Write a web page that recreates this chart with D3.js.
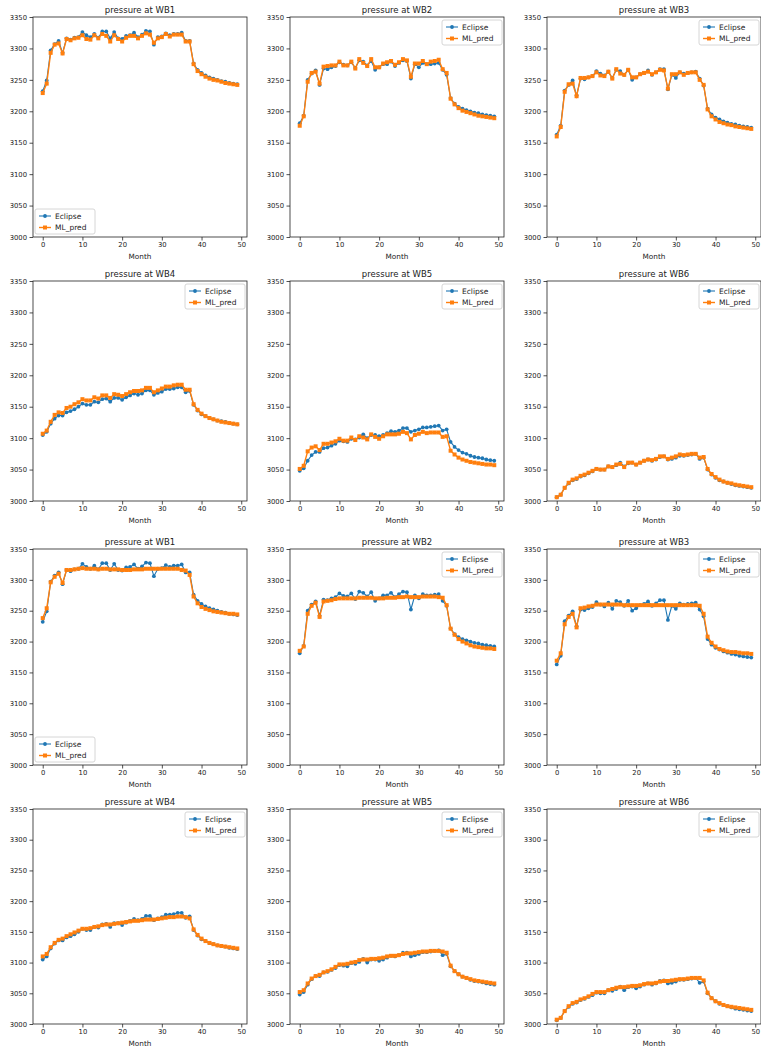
<!DOCTYPE html>
<meta charset="utf-8">
<script src="https://d3js.org/d3.v7.min.js"></script>
<style>
  body { margin: 0; background: #fff; }
  text { font-family: "DejaVu Sans", sans-serif; fill: #222; }
</style>
<body>
<svg id="svg" width="761" height="1047"></svg>
<script>
// ---- data ----
var months = d3.range(50);
var yTicks = [3000, 3050, 3100, 3150, 3200, 3250, 3300, 3350];
var xTicks = [0, 10, 20, 30, 40, 50];

// Eclipse (ground truth), same in both runs
var eclWB1 = [3232,3249,3297,3307,3312,3293,3316,3314,3317,3318,3326,3321,3318,3323,3317,3327,3327,3316,3326,3316,3315,3320,3321,3325,3318,3322,3328,3327,3306,3318,3319,3324,3321,3323,3323,3325,3312,3312,3276,3266,3261,3257,3254,3252,3250,3248,3247,3245,3244,3243];
var eclWB2 = [3181,3193,3250,3260,3265,3242,3268,3267,3270,3272,3278,3274,3273,3278,3269,3281,3279,3273,3280,3266,3270,3275,3275,3279,3272,3277,3281,3280,3252,3275,3270,3277,3275,3275,3276,3277,3266,3258,3221,3212,3207,3204,3202,3200,3198,3197,3195,3194,3193,3192];
var eclWB3 = [3163,3177,3233,3242,3249,3225,3252,3251,3254,3256,3264,3260,3257,3263,3253,3266,3264,3258,3266,3250,3254,3259,3261,3265,3258,3262,3267,3267,3235,3258,3253,3262,3260,3261,3262,3263,3252,3241,3204,3195,3190,3187,3184,3182,3180,3179,3177,3176,3175,3174];
var eclWB4 = [3105,3110,3123,3131,3136,3136,3141,3143,3146,3150,3155,3153,3153,3158,3157,3162,3163,3158,3164,3164,3161,3165,3168,3171,3169,3171,3176,3176,3169,3172,3174,3178,3178,3179,3181,3181,3173,3175,3153,3144,3138,3135,3132,3130,3128,3127,3126,3124,3123,3122];
var eclWB5 = [3048,3052,3064,3073,3078,3078,3084,3085,3088,3091,3096,3095,3094,3099,3098,3101,3106,3100,3105,3105,3103,3105,3108,3111,3110,3112,3116,3116,3110,3112,3114,3117,3117,3118,3119,3120,3112,3114,3094,3086,3081,3077,3075,3072,3070,3069,3068,3066,3065,3064];
var eclWB6 = [3006,3010,3021,3028,3033,3035,3039,3041,3044,3047,3051,3050,3050,3055,3054,3057,3061,3055,3060,3061,3058,3061,3064,3066,3064,3066,3070,3071,3066,3067,3069,3072,3072,3073,3074,3075,3067,3069,3050,3042,3037,3033,3031,3029,3027,3025,3024,3023,3022,3021];

// ML_pred, first run (rows 1-2)
var mlA_WB1 = [3229,3244,3293,3306,3308,3292,3315,3313,3316,3317,3321,3315,3314,3321,3316,3323,3320,3311,3321,3315,3311,3317,3320,3320,3316,3320,3324,3322,3309,3316,3318,3323,3319,3322,3322,3322,3311,3311,3275,3264,3259,3255,3252,3250,3249,3247,3245,3244,3243,3242];
var mlA_WB2 = [3177,3192,3247,3261,3263,3244,3271,3272,3273,3273,3279,3273,3273,3279,3268,3283,3277,3272,3283,3270,3270,3276,3278,3280,3274,3278,3283,3281,3255,3276,3276,3280,3275,3279,3280,3282,3267,3261,3220,3211,3205,3201,3199,3197,3195,3193,3192,3191,3190,3189];
var mlA_WB3 = [3160,3175,3231,3243,3244,3224,3253,3253,3254,3256,3262,3257,3256,3263,3252,3267,3260,3258,3266,3254,3254,3259,3261,3263,3259,3262,3266,3265,3236,3259,3259,3262,3258,3261,3262,3262,3250,3242,3203,3192,3187,3183,3181,3179,3178,3176,3175,3174,3173,3172];
var mlA_WB4 = [3107,3112,3126,3137,3141,3140,3148,3150,3154,3157,3162,3160,3160,3165,3163,3168,3168,3164,3170,3169,3167,3170,3173,3175,3175,3176,3180,3180,3173,3176,3179,3182,3182,3184,3185,3185,3177,3177,3154,3145,3139,3135,3132,3130,3128,3126,3125,3124,3123,3122];
var mlA_WB5 = [3051,3056,3079,3085,3087,3081,3091,3091,3093,3095,3099,3096,3096,3101,3097,3103,3101,3098,3106,3102,3099,3103,3106,3106,3106,3107,3110,3108,3098,3105,3107,3110,3108,3109,3109,3109,3102,3103,3080,3074,3069,3066,3064,3062,3061,3060,3059,3058,3058,3057];
var mlA_WB6 = [3006,3010,3021,3029,3034,3036,3040,3042,3045,3048,3051,3050,3050,3055,3054,3058,3059,3054,3061,3061,3058,3061,3064,3066,3065,3067,3071,3071,3067,3069,3071,3074,3073,3074,3075,3075,3069,3070,3051,3043,3038,3034,3031,3029,3028,3026,3025,3024,3023,3022];

// ML_pred, second run (rows 3-4)
var mlB_WB1 = [3238,3254,3296,3305,3310,3295,3316,3316,3317,3318,3319,3318,3318,3318,3317,3318,3318,3317,3317,3317,3316,3316,3316,3317,3317,3317,3318,3318,3318,3318,3318,3318,3318,3318,3318,3316,3315,3308,3273,3262,3256,3253,3251,3249,3248,3247,3246,3245,3245,3244];
var mlB_WB2 = [3185,3192,3245,3258,3263,3240,3265,3266,3267,3269,3270,3270,3270,3270,3270,3271,3271,3271,3271,3270,3270,3270,3271,3271,3271,3272,3272,3273,3272,3272,3272,3273,3273,3273,3273,3272,3271,3259,3221,3211,3204,3200,3197,3194,3192,3191,3190,3189,3189,3188];
var mlB_WB3 = [3169,3181,3228,3240,3245,3223,3254,3255,3257,3258,3260,3260,3260,3260,3260,3260,3260,3259,3259,3259,3259,3259,3259,3259,3259,3259,3259,3259,3259,3259,3259,3259,3259,3259,3259,3259,3258,3245,3208,3198,3192,3188,3186,3184,3183,3183,3182,3181,3181,3180];
var mlB_WB4 = [3110,3114,3125,3132,3137,3139,3143,3146,3149,3152,3155,3155,3156,3158,3159,3161,3162,3162,3163,3164,3165,3166,3167,3168,3168,3169,3170,3170,3170,3171,3172,3173,3174,3174,3175,3175,3174,3172,3154,3145,3139,3135,3132,3130,3128,3127,3126,3125,3124,3123];
var mlB_WB5 = [3052,3055,3066,3074,3078,3080,3084,3086,3089,3093,3097,3097,3098,3100,3101,3104,3105,3105,3106,3106,3107,3108,3110,3111,3111,3112,3114,3115,3115,3116,3117,3118,3118,3119,3119,3119,3118,3116,3095,3086,3081,3077,3075,3073,3071,3070,3069,3068,3067,3066];
var mlB_WB6 = [3007,3010,3021,3029,3034,3036,3040,3042,3045,3049,3052,3052,3052,3055,3057,3059,3060,3060,3061,3062,3062,3063,3065,3066,3066,3067,3069,3070,3070,3071,3072,3073,3073,3074,3075,3075,3075,3071,3051,3042,3037,3034,3031,3029,3028,3027,3026,3025,3024,3023];

var panels = [
  {title: "pressure at WB1", ecl: eclWB1, ml: mlA_WB1, legend: "ll"},
  {title: "pressure at WB2", ecl: eclWB2, ml: mlA_WB2, legend: "ur"},
  {title: "pressure at WB3", ecl: eclWB3, ml: mlA_WB3, legend: "ur"},
  {title: "pressure at WB4", ecl: eclWB4, ml: mlA_WB4, legend: "ur"},
  {title: "pressure at WB5", ecl: eclWB5, ml: mlA_WB5, legend: "ur"},
  {title: "pressure at WB6", ecl: eclWB6, ml: mlA_WB6, legend: "ur"},
  {title: "pressure at WB1", ecl: eclWB1, ml: mlB_WB1, legend: "ll"},
  {title: "pressure at WB2", ecl: eclWB2, ml: mlB_WB2, legend: "ur"},
  {title: "pressure at WB3", ecl: eclWB3, ml: mlB_WB3, legend: "ur"},
  {title: "pressure at WB4", ecl: eclWB4, ml: mlB_WB4, legend: "ur"},
  {title: "pressure at WB5", ecl: eclWB5, ml: mlB_WB5, legend: "ur"},
  {title: "pressure at WB6", ecl: eclWB6, ml: mlB_WB6, legend: "ur"}
];

// ---- layout ----
var colLeft = [33, 290, 547];
var panelW = 214;
var rowBox = [[17, 237], [281, 501], [549, 765], [809, 1024]];
var blue = "#1f77b4", orange = "#ff7f0e";

var svg = d3.select("#svg");

panels.forEach(function(p, i) {
  var r = Math.floor(i / 3), c = i % 3;
  var w = panelW, h = rowBox[r][1] - rowBox[r][0];
  var g = svg.append("g").attr("transform", "translate(" + colLeft[c] + "," + rowBox[r][0] + ")");

  var x = d3.scaleLinear().domain([-2.45, 51.45]).range([0, w]);
  var y = d3.scaleLinear().domain([3000, 3350]).range([h, 0]);

  // axes
  var ya = g.append("g").call(d3.axisLeft(y).tickValues(yTicks).tickFormat(d3.format("d"))
    .tickSize(3.5).tickPadding(2.5));
  var xa = g.append("g").attr("transform", "translate(0," + h + ")")
    .call(d3.axisBottom(x).tickValues(xTicks).tickFormat(d3.format("d")).tickSize(3.5).tickPadding(2));
  [ya, xa].forEach(function(a) {
    a.select(".domain").remove();
    a.selectAll("line").attr("stroke", "#222").attr("stroke-width", 0.8);
    a.selectAll("text").style("font-size", "6.8px").attr("fill", "#222");
  });

  // series
  var line = d3.line().x(function(d, k) { return x(months[k]); }).y(function(d) { return y(d); });

  g.append("path").datum(p.ecl).attr("d", line)
    .attr("fill", "none").attr("stroke", blue).attr("stroke-width", 1.1);
  g.selectAll(".ecl").data(p.ecl).enter().append("circle")
    .attr("cx", function(d, k) { return x(months[k]); })
    .attr("cy", function(d) { return y(d); })
    .attr("r", 1.9).attr("fill", blue);

  g.append("path").datum(p.ml).attr("d", line)
    .attr("fill", "none").attr("stroke", orange).attr("stroke-width", 1.4);
  g.selectAll(".ml").data(p.ml).enter().append("rect")
    .attr("x", function(d, k) { return x(months[k]) - 2; })
    .attr("y", function(d) { return y(d) - 2; })
    .attr("width", 4).attr("height", 4).attr("fill", orange);

  // frame
  g.append("rect").attr("width", w).attr("height", h)
    .attr("fill", "none").attr("stroke", "#222").attr("stroke-width", 0.8);

  // title & label
  g.append("text").attr("x", w / 2).attr("y", -4).attr("text-anchor", "middle")
    .style("font-size", "8.5px").text(p.title);
  g.append("text").attr("x", w / 2).attr("y", h + 22).attr("text-anchor", "middle")
    .style("font-size", "7.3px").text("Month");

  // legend
  var lw = 60, lh = 25;
  var lx = p.legend === "ur" ? w - lw - 2 : 2;
  var ly = p.legend === "ur" ? 3 : h - lh - 3;
  var lg = g.append("g").attr("transform", "translate(" + lx + "," + ly + ")");
  lg.append("rect").attr("width", lw).attr("height", lh).attr("rx", 2)
    .attr("fill", "#fff").attr("fill-opacity", 0.8).attr("stroke", "#ccc").attr("stroke-width", 0.8);
  var items = [{name: "Eclipse", color: blue, mark: "circle"}, {name: "ML_pred", color: orange, mark: "square"}];
  items.forEach(function(it, k) {
    var cy = 7 + k * 11.5;
    lg.append("line").attr("x1", 4).attr("x2", 16).attr("y1", cy).attr("y2", cy)
      .attr("stroke", it.color).attr("stroke-width", it.mark === "circle" ? 1.1 : 1.4);
    if (it.mark === "circle") {
      lg.append("circle").attr("cx", 10).attr("cy", cy).attr("r", 1.9).attr("fill", it.color);
    } else {
      lg.append("rect").attr("x", 8).attr("y", cy - 2).attr("width", 4).attr("height", 4).attr("fill", it.color);
    }
    lg.append("text").attr("x", 20).attr("y", cy + 2.5).style("font-size", "7.5px").text(it.name);
  });
});
</script>
</body>
